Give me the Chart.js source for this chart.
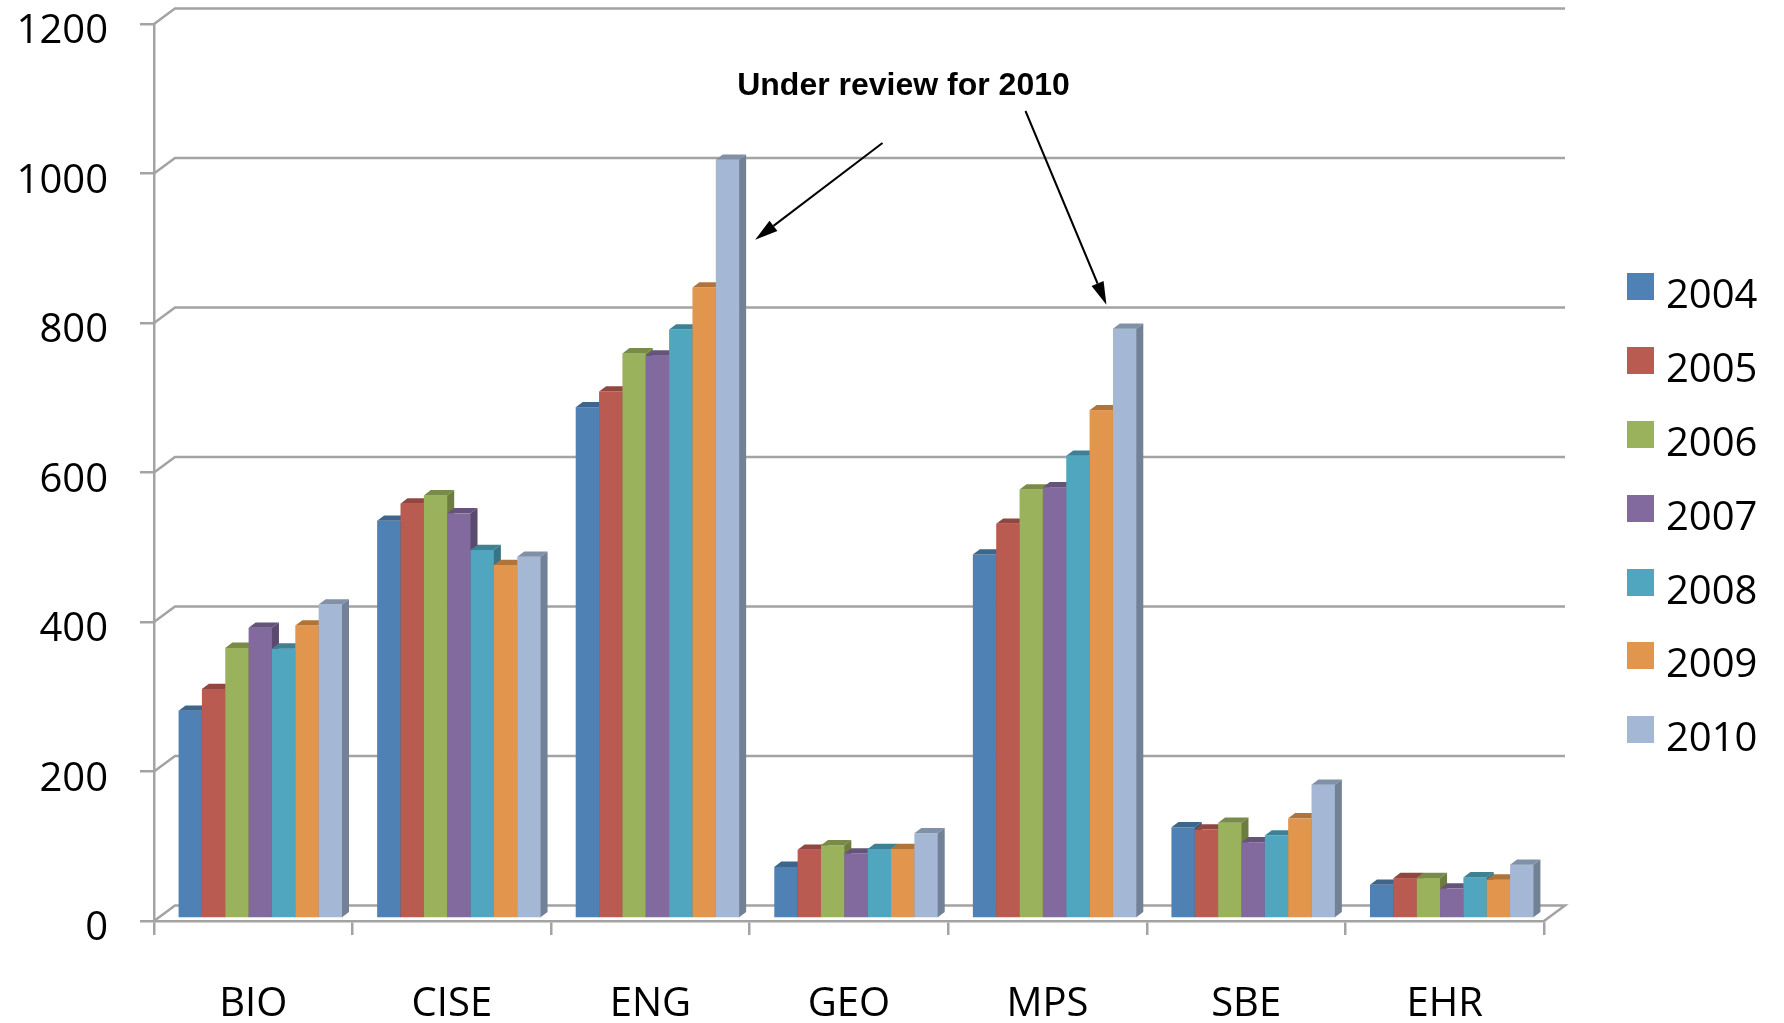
<!DOCTYPE html>
<html>
<head>
<meta charset="utf-8">
<script src="https://cdn.jsdelivr.net/npm/chart.js@4.4.1/dist/chart.umd.min.js"></script>
<style>
    html, body { margin: 0; padding: 0; background: #fff; overflow: hidden; }
    #wrap { position: relative; width: 1784px; height: 1023px; }
    #legend { position: absolute; left: 1627px; top: 273px; font-family: "Open Sans", sans-serif; font-size: 40px; color: #000; }
    .legend-item { display: flex; align-items: flex-start; height: 73.9px; }
    .legend-box { width: 27px; height: 27px; flex: none; }
    .legend-text { margin-left: 12px; line-height: 39px; }
</style>
</head>
<body>
<div id="wrap">
    <canvas id="myChart" width="1784" height="1023"></canvas>
    <div id="legend"></div>
</div>
<script>
const categories = ['BIO', 'CISE', 'ENG', 'GEO', 'MPS', 'SBE', 'EHR'];
const years = ['2004', '2005', '2006', '2007', '2008', '2009', '2010'];

const y2004 = [278, 532, 684, 69, 487, 122, 45];
const y2005 = [307, 555, 705, 92, 528, 119, 54];
const y2006 = [362, 566, 756, 98, 574, 128, 54];
const y2007 = [389, 542, 753, 87, 577, 102, 40];
const y2008 = [361, 493, 788, 93, 619, 111, 55];
const y2009 = [392, 473, 844, 93, 680, 134, 52];
const y2010 = [420, 484, 1015, 114, 789, 179, 72];

const yTicks = [0, 200, 400, 600, 800, 1000, 1200];
const noteText = 'Under review for 2010';

const series = [y2004, y2005, y2006, y2007, y2008, y2009, y2010];
const colors = ['#4f81b4', '#b95b51', '#9bb25c', '#826a9e', '#50a6be', '#e2954c', '#a4b8d6'];
const gridColor = '#a3a3a3';

// 3d look: bar depth, back wall offset, and how far bars sit behind the front axis
const depth = { dx: 7, dy: 5.3 };
const wall = { dx: 21, dy: 15.5 };
const shift = { x: 7, y: -2.5 };

function shade(hex, f) {
    const n = parseInt(hex.slice(1), 16);
    const r = Math.round(((n >> 16) & 255) * f);
    const g = Math.round(((n >> 8) & 255) * f);
    const b = Math.round((n & 255) * f);
    return 'rgb(' + r + ',' + g + ',' + b + ')';
}

function arrow(ctx, x1, y1, x2, y2) {
    const ang = Math.atan2(y2 - y1, x2 - x1);
    const len = 23, half = 6.5;
    const bx = x2 - len * Math.cos(ang), by = y2 - len * Math.sin(ang);
    ctx.beginPath();
    ctx.moveTo(x1, y1);
    ctx.lineTo(bx, by);
    ctx.stroke();
    ctx.beginPath();
    ctx.moveTo(x2, y2);
    ctx.lineTo(bx + half * Math.sin(ang), by - half * Math.cos(ang));
    ctx.lineTo(bx - half * Math.sin(ang), by + half * Math.cos(ang));
    ctx.closePath();
    ctx.fill();
}

const threeD = {
    id: 'threeD',
    beforeDatasetsDraw(chart) {
        const { ctx, chartArea: a, scales } = chart;
        const y = scales.y;
        ctx.save();

        // back wall grid lines
        ctx.strokeStyle = gridColor;
        ctx.lineWidth = 2.5;
        y.ticks.forEach(t => {
            const py = y.getPixelForValue(t.value);
            ctx.beginPath();
            ctx.moveTo(a.left, py);
            ctx.lineTo(a.left + wall.dx, py - wall.dy);
            ctx.lineTo(a.right + wall.dx, py - wall.dy);
            if (t.value === 0) ctx.lineTo(a.right, py);
            ctx.stroke();
        });

        // bars with top and side faces
        chart.data.datasets.forEach((ds, i) => {
            const meta = chart.getDatasetMeta(i);
            meta.data.forEach(bar => {
                const p = bar.getProps(['x', 'y', 'base', 'width'], true);
                const l = p.x - p.width / 2 + shift.x;
                const r = l + p.width;
                const t = p.y + shift.y;
                const b = p.base + shift.y;

                ctx.fillStyle = ds.backgroundColor;
                ctx.fillRect(l, t, p.width + 0.6, b - t);

                ctx.fillStyle = shade(ds.backgroundColor, 0.78);
                ctx.beginPath();
                ctx.moveTo(l, t);
                ctx.lineTo(l + depth.dx, t - depth.dy);
                ctx.lineTo(r + depth.dx, t - depth.dy);
                ctx.lineTo(r, t);
                ctx.closePath();
                ctx.fill();

                ctx.fillStyle = shade(ds.backgroundColor, 0.7);
                ctx.beginPath();
                ctx.moveTo(r, t);
                ctx.lineTo(r + depth.dx, t - depth.dy);
                ctx.lineTo(r + depth.dx, b - depth.dy);
                ctx.lineTo(r, b);
                ctx.closePath();
                ctx.fill();
            });
        });
        ctx.restore();
        return false;
    },
    afterDraw(chart) {
        const { ctx } = chart;
        const last = chart.getDatasetMeta(series.length - 1);
        const eng = last.data[categories.indexOf('ENG')].getProps(['x', 'y', 'width'], true);
        const mps = last.data[categories.indexOf('MPS')].getProps(['x', 'y', 'width'], true);
        const tx = 903.5, ty = 95;

        ctx.save();
        ctx.fillStyle = '#000';
        ctx.strokeStyle = '#000';
        ctx.lineWidth = 2;
        ctx.font = 'bold 32px "Liberation Sans", Arial, sans-serif';
        ctx.textAlign = 'center';
        ctx.textBaseline = 'alphabetic';
        ctx.fillText(noteText, tx, ty);

        arrow(ctx, tx - 21, ty + 48,
            eng.x + eng.width / 2 + shift.x + 16, eng.y + shift.y + 80);
        arrow(ctx, tx + 122, ty + 16,
            mps.x - mps.width / 2 + shift.x - 6.5, mps.y + shift.y - 24);
        ctx.restore();
    }
};

const data = {
    labels: categories,
    datasets: years.map((yr, i) => ({
        label: yr,
        data: series[i],
        backgroundColor: colors[i],
        categoryPercentage: 0.823,
        barPercentage: 1.0
    }))
};

const labelFont = { family: '"Open Sans", sans-serif', size: 40 };

new Chart(document.getElementById('myChart'), {
    type: 'bar',
    data: data,
    options: {
        responsive: false,
        animation: false,
        layout: { padding: { top: 24, right: 240, left: 0, bottom: 0 } },
        plugins: {
            legend: { display: false },
            tooltip: { enabled: false }
        },
        scales: {
            x: {
                grid: { offset: true, drawOnChartArea: false, drawTicks: true, tickLength: 14, color: gridColor, lineWidth: 2.5 },
                border: { color: gridColor, width: 2.5 },
                ticks: { color: '#000', font: labelFont, padding: 46, maxRotation: 0 },
                afterFit(scale) { scale.height = 102; }
            },
            y: {
                min: 0,
                max: 1200,
                afterBuildTicks(scale) { scale.ticks = yTicks.map(v => ({ value: v })); },
                grid: { drawOnChartArea: false, drawTicks: true, tickLength: 14, color: gridColor, lineWidth: 2.5 },
                border: { color: gridColor, width: 2.5 },
                ticks: { color: '#000', font: labelFont, padding: 32, labelOffset: 8, callback: v => String(v) },
                afterFit(scale) {
                    scale.width = 154;
                    scale.paddingTop = 0;
                    scale.paddingBottom = 0;
                }
            }
        }
    },
    plugins: [threeD]
});

// legend
const legendContainer = document.getElementById('legend');
years.forEach((yr, i) => {
    const item = document.createElement('div');
    item.classList.add('legend-item');
    const box = document.createElement('span');
    box.classList.add('legend-box');
    box.style.backgroundColor = colors[i];
    const text = document.createElement('span');
    text.classList.add('legend-text');
    text.textContent = yr;
    item.appendChild(box);
    item.appendChild(text);
    legendContainer.appendChild(item);
});
</script>
</body>
</html>
